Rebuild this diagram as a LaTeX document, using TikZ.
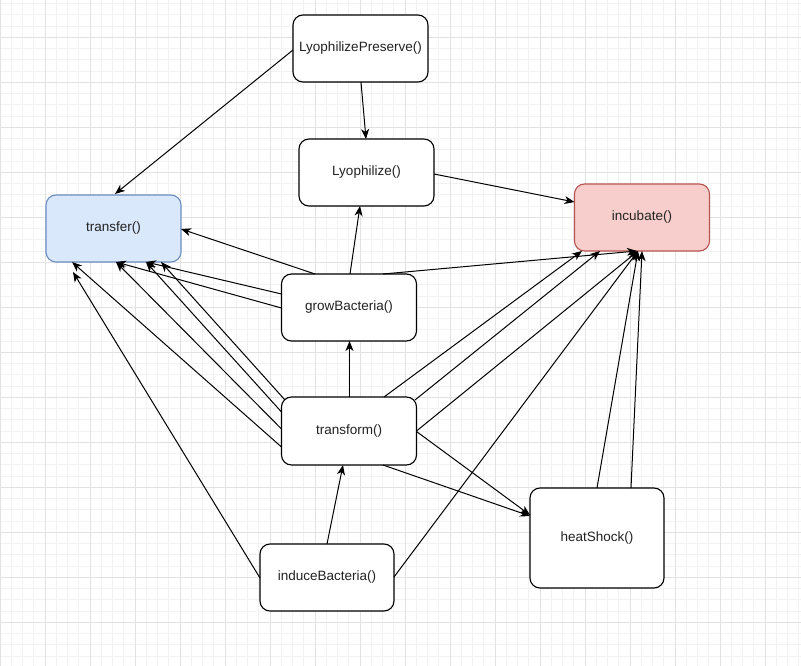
\documentclass[tikz,border=0pt]{standalone}
\usepackage{fontspec}
\setmainfont{Liberation Sans}
\usetikzlibrary{arrows.meta,calc}
\definecolor{gridminor}{HTML}{F2F2F2}
\definecolor{gridmajor}{HTML}{E2E2E2}
\definecolor{bluefill}{HTML}{DAE8FC}
\definecolor{blueline}{HTML}{6C8EBF}
\definecolor{redfill}{HTML}{F8CECC}
\definecolor{redline}{HTML}{B85450}
\definecolor{textcol}{HTML}{222222}
\begin{document}
\begin{tikzpicture}[x=1pt,y=-1pt,
  box/.style={draw=black, fill=white, rounded corners=10pt, line width=1.1pt,
    minimum width=135pt, minimum height=67pt, inner sep=0pt, text=textcol,
    font=\fontsize{13.5}{16}\selectfont},
  conn/.style={line width=1pt, -{Stealth[length=10pt,width=8pt,inset=3pt]}},
  minorline/.style={draw=gridminor, line width=1pt},
  majorline/.style={draw=gridmajor, line width=1pt}]
\useasboundingbox (0,0) rectangle (801,666);
\fill[white] (0,0) rectangle (801,666);
% grid
\foreach \i in {0,...,71} \draw[minorline] (\i*11.25,0) -- (\i*11.25,666);
\foreach \j in {0,...,59} \draw[minorline] (0,3.55+\j*11.25) -- (801,3.55+\j*11.25);
\foreach \i in {0,...,17} \draw[majorline] (\i*45,0) -- (\i*45,666);
\foreach \j in {0,...,14} \draw[majorline] (0,37.3+\j*45) -- (801,37.3+\j*45);
% nodes
\node[box] (LP) at (360.5,48.5) {LyophilizePreserve()};
\node[box] (Ly) at (366.5,172.5) {Lyophilize()};
\node[box, fill=bluefill, draw=blueline] (Tr) at (113.5,228.5) {transfer()};
\node[box, fill=redfill, draw=redline] (Inc) at (642,217.5) {incubate()};
\node[box] (gB) at (349,307.5) {growBacteria()};
\node[box, minimum height=68pt] (tf) at (349,431) {transform()};
\node[box, minimum width=134pt, minimum height=100pt] (hs) at (597,538) {heatShock()};
\node[box, minimum width=134pt] (iB) at (327,577.5) {induceBacteria()};
% connectors
\draw[conn] ($(LP)+(-67.5,1.5)$) -- ($(Tr)+(1.5,-34.5)$);
\draw[conn] ($(LP)+(0.5,33.5)$) -- ($(Ly)+(-0.5,-33.5)$);
\draw[conn] ($(Ly)+(67.5,1.5)$) -- ($(Inc)+(-67.5,-15.5)$);
\draw[conn] ($(gB)+(1,-33.5)$) -- ($(Ly)+(-6.5,33.5)$);
\draw[conn] ($(gB)+(-34,-33.5)$) -- ($(Tr)+(67.5,0.5)$);
\draw[conn] ($(gB)+(-67.5,-13.5)$) -- ($(Tr)+(32.5,33.5)$);
\draw[conn] ($(gB)+(-67.5,0.5)$) -- ($(Tr)+(2.5,33.5)$);
\draw[conn] ($(gB)+(34,-33.5)$) -- ($(Inc)+(-5,33.5)$);
\draw[conn] ($(tf)+(-64,-31)$) -- ($(Tr)+(47.5,33.5)$);
\draw[conn] ($(tf)+(-67.5,-19)$) -- ($(Tr)+(32.5,33.5)$);
\draw[conn] ($(tf)+(-67.5,-2)$) -- ($(Tr)+(2.5,33.5)$);
\draw[conn] ($(tf)+(-67.5,16)$) -- ($(Tr)+(-41.5,33.5)$);
\draw[conn] ($(tf)+(35,-34)$) -- ($(Inc)+(-60,33.5)$);
\draw[conn] ($(tf)+(66,-31)$) -- ($(Inc)+(-42,33.5)$);
\draw[conn] ($(tf)+(67.5,0)$) -- ($(Inc)+(-4,33.5)$);
\draw[conn] ($(iB)+(67,-0.5)$) -- ($(Inc)+(-4,33.5)$);
\draw[conn] ($(hs)+(0,-50)$) -- ($(Inc)+(-4,33.5)$);
\draw[conn] ($(hs)+(34,-50)$) -- ($(Inc)+(0,33.5)$);
\draw[conn] ($(tf)+(67.5,0.5)$) -- ($(hs)+(-67,-23)$);
\draw[conn] ($(tf)+(34,34)$) -- ($(hs)+(-67,-22)$);
\draw[conn] ($(iB)+(0,-33.5)$) -- ($(tf)+(-6,34)$);
\draw[conn] ($(tf)+(0.5,-34)$) -- ($(gB)+(0.5,33.5)$);
\draw[conn] ($(iB)+(-67,0.5)$) -- ($(Tr)+(-40.5,43.5)$);
\end{tikzpicture}
\end{document}
